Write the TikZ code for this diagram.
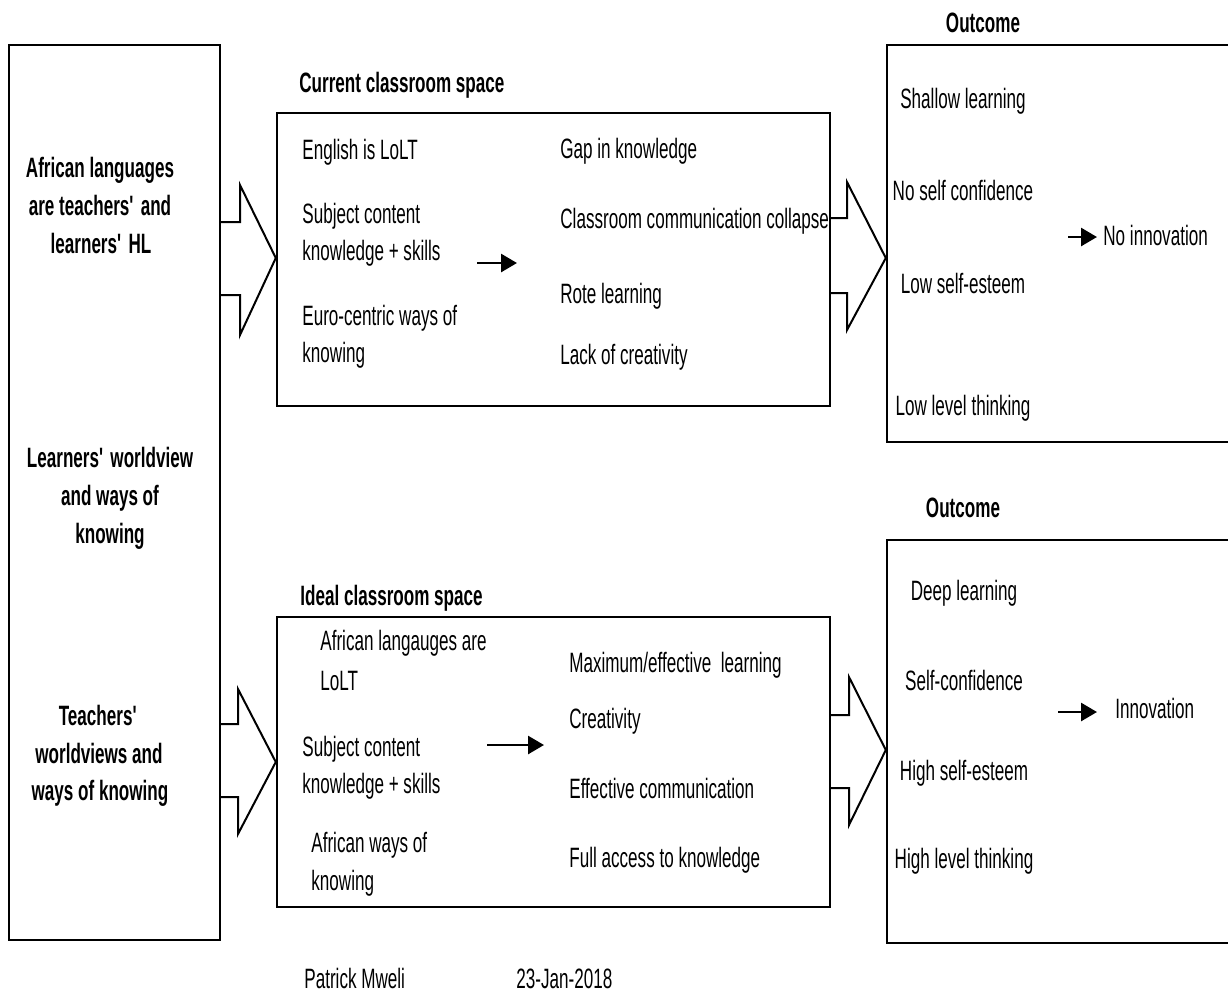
\documentclass[tikz,border=0pt]{standalone}
\usepackage{fontspec}
\setmainfont{Liberation Sans}[FakeStretch=0.61]
\usetikzlibrary{arrows.meta,fit}
\tikzset{
  box/.style={draw=black, line width=1.2pt, inner sep=0pt},
  blockarrow/.style={draw=black, fill=white, line width=1pt, line join=miter},
  sarrow/.style={line width=1.4pt, -{Triangle[length=8pt,width=9pt]}},
  lbl/.style={anchor=base west, inner sep=0pt, font=\fontsize{14pt}{17pt}\selectfont},
  clbl/.style={anchor=base, inner sep=0pt, font=\fontsize{14pt}{17pt}\selectfont},
  blbl/.style={anchor=base, inner sep=0pt, font=\fontsize{14pt}{17pt}\selectfont\bfseries},
  bwlbl/.style={anchor=base west, inner sep=0pt, font=\fontsize{14pt}{17pt}\selectfont\bfseries},
}
\newcommand{\aps}{\textquotesingle}
\begin{document}
\begin{tikzpicture}[x=0.5pt,y=-0.5pt]
\useasboundingbox[fill=white] (0,0) rectangle (1228,993);

% boxes
\node[box, fit={(9,45) (220,940)}] (left) {};
\node[box, fit={(277,113) (830,406)}] (cur) {};
\node[box, fit={(887,45) (1245,442)}] (out1) {};
\node[box, fit={(277,617) (830,907)}] (ideal) {};
\node[box, fit={(887,540) (1245,943)}] (out2) {};

% block arrows
\draw[blockarrow] (left.east |- 0,222) -- (240,222) -- (240,185) -- (cur.west |- 0,258)
  -- (240,335) -- (240,295) -- (left.east |- 0,295);
\draw[blockarrow] (cur.east |- 0,218) -- (847,218) -- (847,182) -- (out1.west |- 0,258)
  -- (847,330) -- (847,293) -- (cur.east |- 0,293);
\draw[blockarrow] (left.east |- 0,724) -- (238,724) -- (238,689) -- (ideal.west |- 0,762)
  -- (238,834) -- (238,797) -- (left.east |- 0,797);
\draw[blockarrow] (ideal.east |- 0,715) -- (849,715) -- (849,677) -- (out2.west |- 0,750)
  -- (849,825) -- (849,788) -- (ideal.east |- 0,788);

% left box texts
\node[blbl] (l1a) at (100,177) {African languages};
\node[blbl] (l1b) at (100,215) {are teachers\aps{} and};
\node[blbl] (l1c) at (101,253) {learners\aps{} HL};
\node[blbl] (l2a) at (110,467) {Learners\aps{} worldview};
\node[blbl] (l2b) at (110,505) {and ways of};
\node[blbl] (l2c) at (110,543) {knowing};
\node[blbl] (l3a) at (99,725) {Teachers\aps};
\node[blbl] (l3b) at (99,763) {worldviews and};
\node[blbl] (l3c) at (100,800) {ways of knowing};

% current classroom
\node[bwlbl] (curt) at (299,92) {Current classroom space};
\node[lbl] (c1) at (302,159) {English is LoLT};
\node[lbl] (c2a) at (302,223) {Subject content};
\node[lbl] (c2b) at (302,260) {knowledge + skills};
\node[lbl] (c3a) at (302,325) {Euro-centric ways of};
\node[lbl] (c3b) at (302,362) {knowing};
\node[lbl] (c4) at (560,158) {Gap in knowledge};
\node[lbl] (c5) at (560,228) {Classroom communication collapse};
\node[lbl] (c6) at (560,303) {Rote learning};
\node[lbl] (c7) at (560,364) {Lack of creativity};
\coordinate (ca1) at (477,263);
\coordinate (ca2) at (517,263);
\draw[sarrow] (ca1) -- (ca2);

% outcome 1
\node[blbl] (o1t) at (983,32) {Outcome};
\node[clbl] (o1a) at (963,108) {Shallow learning};
\node[clbl] (o1b) at (963,200) {No self confidence};
\node[clbl] (o1c) at (963,293) {Low self-esteem};
\node[clbl] (o1d) at (963,415) {Low level thinking};
\node[lbl] (o1e) at (1103,245) {No innovation};
\coordinate (oa1) at (1068,237);
\coordinate (oa2) at (1097,237);
\draw[sarrow] (oa1) -- (oa2);

% ideal classroom
\node[bwlbl] (idt) at (300,605) {Ideal classroom space};
\node[lbl] (i1a) at (320,650) {African langauges are};
\node[lbl] (i1b) at (320,690) {LoLT};
\node[lbl] (i2a) at (302,756) {Subject content};
\node[lbl] (i2b) at (302,793) {knowledge + skills};
\node[lbl] (i3a) at (311,852) {African ways of};
\node[lbl] (i3b) at (311,890) {knowing};
\node[lbl] (i4) at (569,672) {Maximum/effective\ \ learning};
\node[lbl] (i5) at (569,728) {Creativity};
\node[lbl] (i6) at (569,798) {Effective communication};
\node[lbl] (i7) at (569,867) {Full access to knowledge};
\coordinate (ia1) at (487,745);
\coordinate (ia2) at (544,745);
\draw[sarrow] (ia1) -- (ia2);

% outcome 2
\node[blbl] (o2t) at (963,517) {Outcome};
\node[clbl] (o2a) at (964,600) {Deep learning};
\node[clbl] (o2b) at (964,690) {Self-confidence};
\node[clbl] (o2c) at (964,780) {High self-esteem};
\node[clbl] (o2d) at (964,868) {High level thinking};
\node[lbl] (o2e) at (1115,718) {Innovation};
\coordinate (ob1) at (1058,712);
\coordinate (ob2) at (1097,712);
\draw[sarrow] (ob1) -- (ob2);

% footer
\node[lbl] (auth) at (304,988) {Patrick Mweli};
\node[lbl] (date) at (516,988) {23-Jan-2018};
\end{tikzpicture}
\end{document}
